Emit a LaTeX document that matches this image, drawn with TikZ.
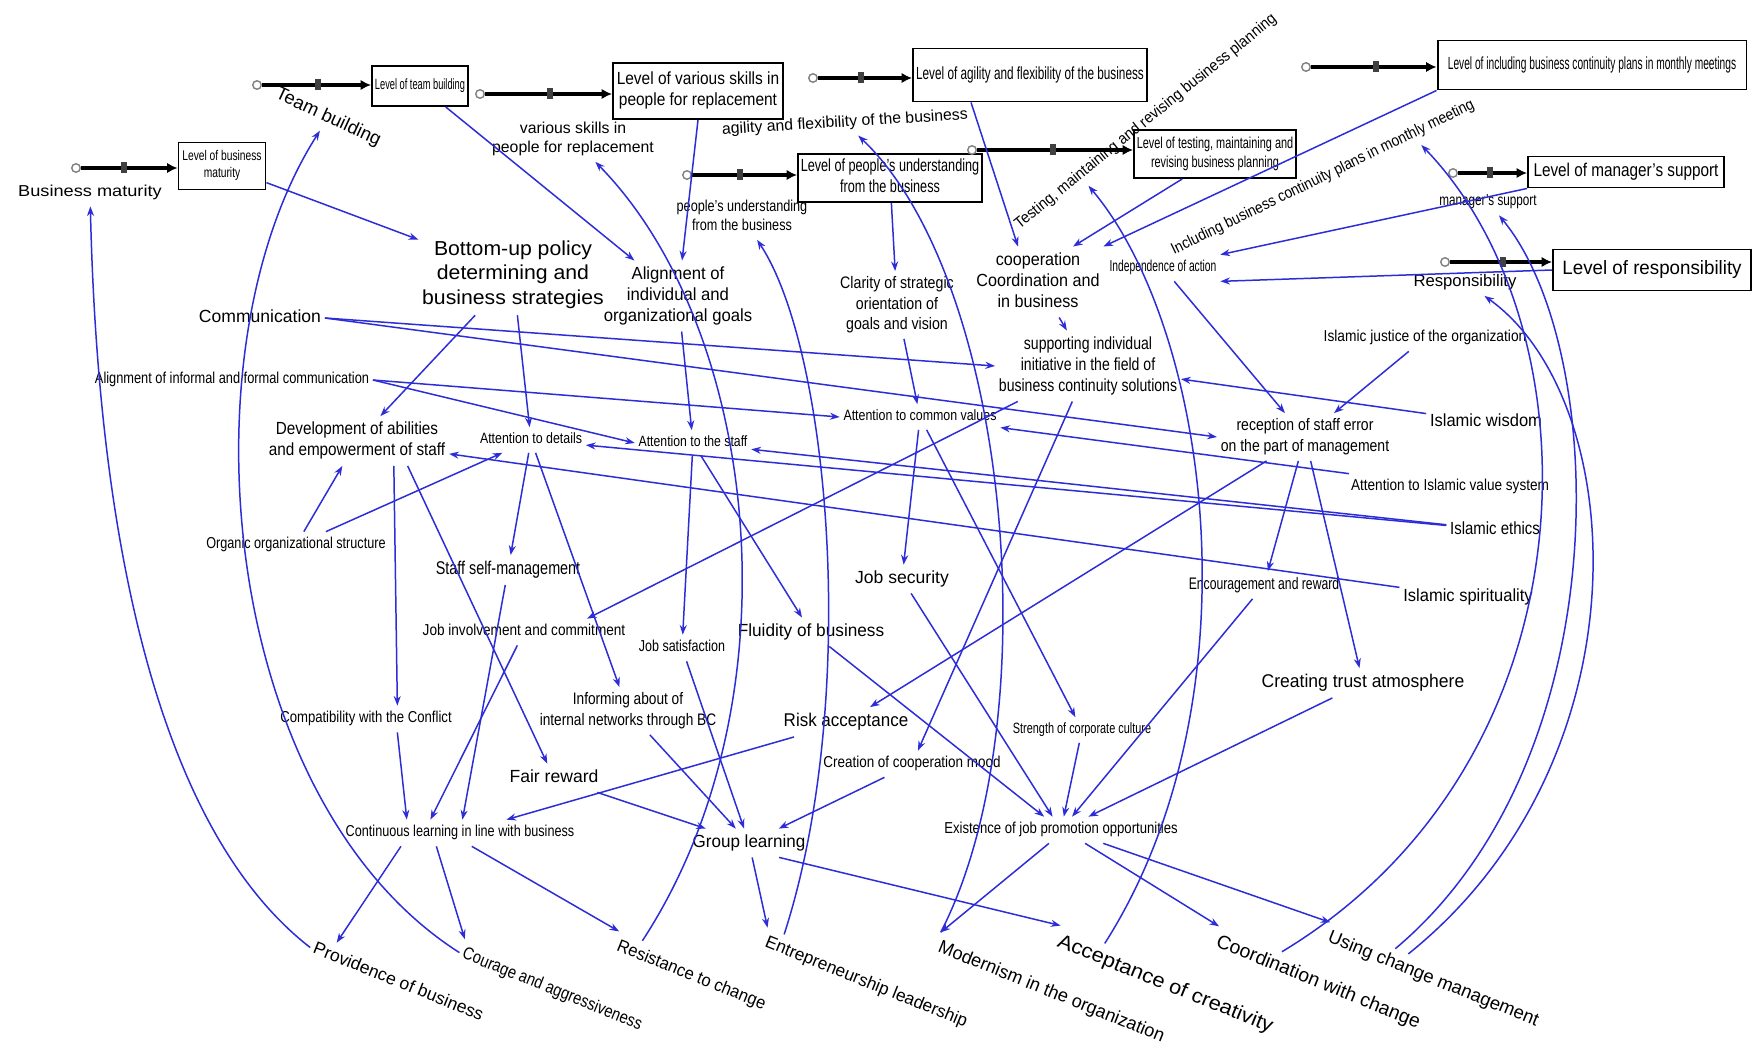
\documentclass[tikz,border=0pt]{standalone}
\usepackage{fontspec}
\setmainfont{Liberation Sans}
\usepackage{graphicx}
\usetikzlibrary{arrows.meta,calc}
\definecolor{bl}{RGB}{45,45,215}
\newcommand\tx[3]{\scalebox{#2}[1]{\fontsize{#1}{\fpeval{1.2*#1}}\selectfont\begin{tabular}{@{}c@{}}#3\end{tabular}}}
\tikzset{
  txt/.style={inner sep=2pt},
  box/.style={draw, line width=1.1pt, inner sep=0pt},
  arr/.style={draw=bl, line width=0.85pt, -{Stealth[length=5.5pt,width=4pt]}},
  pipe/.style={line width=1.8pt, -{Latex[length=6pt,width=6pt]}},
  cloudc/.style={circle, draw=gray, fill=white, line width=0.8pt, minimum size=0.17cm, inner sep=0pt},
  valve/.style={rectangle, fill=black!75, minimum width=0.11cm, minimum height=0.22cm, inner sep=0pt},
}
\begin{document}
\begin{tikzpicture}[x=0.02cm,y=-0.02cm]
\useasboundingbox (0,0) rectangle (1754,1044);
\fill[white] (0,0) rectangle (1754,1044);
% ---------- stocks ----------
\node[box, minimum width=1.74cm, minimum height=0.94cm] (sBM) at (222,166) {\tx{8}{0.73}{Level of business\\maturity}};
\node[box, minimum width=1.92cm, minimum height=0.8cm] (sTB) at (420,86) {\tx{8.5}{0.62}{Level of team building}};
\node[box, minimum width=3.4cm, minimum height=1.12cm] (sVS) at (698,91) {\tx{10}{0.88}{Level of various skills in\\people for replacement}};
\node[box, minimum width=4.68cm, minimum height=1.06cm] (sAF) at (1030,75) {\tx{10}{0.67}{Level of agility and flexibility of the business}};
\node[box, minimum width=3.68cm, minimum height=0.96cm] (sPU) at (890,178) {\tx{10}{0.72}{Level of people's understanding\\from the business}};
\node[box, minimum width=3.24cm, minimum height=0.96cm] (sTM) at (1215,154) {\tx{9}{0.69}{Level of testing, maintaining and\\revising business planning}};
\node[box, minimum width=6.18cm, minimum height=0.98cm] (sIC) at (1592,65) {\tx{10}{0.58}{Level of including business continuity plans in monthly meetings}};
\node[box, minimum width=3.92cm, minimum height=0.62cm] (sMS) at (1626,172) {\tx{10.5}{0.83}{Level of manager's support}};
\node[box, minimum width=3.96cm, minimum height=0.82cm] (sRS) at (1652,270) {\tx{11}{0.97}{Level of responsibility}};
% ---------- clouds ----------
\node[cloudc] (cBM) at (76,168) {};
\node[cloudc] (cTB) at (257,85) {};
\node[cloudc] (cVS) at (480,94) {};
\node[cloudc] (cAF) at (813,78) {};
\node[cloudc] (cPU) at (687,175) {};
\node[cloudc] (cTM) at (972,150) {};
\node[cloudc] (cIC) at (1306,67) {};
\node[cloudc] (cMS) at (1453,173) {};
\node[cloudc] (cRS) at (1445,262) {};
% ---------- pipes ----------
\draw[pipe] (cBM) -- (cBM -| sBM.west);
\draw[pipe] (cTB) -- (cTB -| sTB.west);
\draw[pipe] (cVS) -- (cVS -| sVS.west);
\draw[pipe] (cAF) -- (cAF -| sAF.west);
\draw[pipe] (cPU) -- (cPU -| sPU.west);
\draw[pipe] (cTM) -- (cTM -| sTM.west);
\draw[pipe] (cIC) -- (cIC -| sIC.west);
\draw[pipe] (cMS) -- (cMS -| sMS.west);
\draw[pipe] (cRS) -- (cRS -| sRS.west);
% ---------- valves ----------
\node[valve] (vBM) at (124,168) {};
\node[valve] (vTB) at (318,85) {};
\node[valve] (vVS) at (550,94) {};
\node[valve] (vAF) at (861,78) {};
\node[valve] (vPU) at (740,175) {};
\node[valve] (vTM) at (1053,150) {};
\node[valve] (vIC) at (1376,67) {};
\node[valve] (vMS) at (1490,173) {};
\node[valve] (vRS) at (1503,262) {};
% ---------- flow labels ----------
\node[txt] (lBM) at (90,193) {\tx{9}{1.15}{Business maturity}};
\node[txt, rotate=-25] (lTB) at (328,118) {\tx{10.5}{1}{Team building}};
\node[txt] (lVS) at (573,139) {\tx{9}{1}{various skills in\\people for replacement}};
\node[txt, rotate=3.5] (lAF) at (845,123) {\tx{9}{1}{agility and flexibility of the business}};
\node[txt] (lPU) at (742,217) {\tx{9}{0.8}{people's understanding\\from the business}};
\node[txt, rotate=39] (lTM) at (1146,122) {\tx{9}{0.92}{Testing, maintaining and revising business planning}};
\node[txt, rotate=26] (lIC) at (1323,178) {\tx{9}{0.88}{Including business continuity plans in monthly meeting}};
\node[txt] (lMS) at (1488,202) {\tx{9}{0.74}{manager's support}};
\node[txt] (lRS) at (1465,282) {\tx{9.5}{1}{Responsibility}};
% ---------- auxiliaries ----------
\node[txt] (bup) at (513,275) {\tx{11.5}{1.05}{Bottom-up policy\\determining and\\business strategies}};
\node[txt] (aig) at (678,296) {\tx{10}{0.95}{Alignment of\\individual and\\organizational goals}};
\node[txt] (clar) at (897,305) {\tx{9.5}{0.85}{Clarity of strategic\\orientation of\\goals and vision}};
\node[txt] (coop) at (1038,282) {\tx{10}{0.92}{cooperation\\Coordination and\\in business}};
\node[txt] (indep) at (1163,268) {\tx{9}{0.65}{Independence of action}};
\node[txt] (supp) at (1088,366) {\tx{10}{0.8}{supporting individual\\initiative in the field of\\business continuity solutions}};
\node[txt] (comm) at (260,318) {\tx{10}{1}{Communication}};
\node[txt] (aifc) at (232,380) {\tx{9}{0.81}{Alignment of informal and formal communication}};
\node[txt] (dev) at (357,441) {\tx{10}{0.87}{Development of abilities\\and empowerment of staff}};
\node[txt] (oos) at (296,545) {\tx{9}{0.8}{Organic organizational structure}};
\node[txt] (atd) at (531,440) {\tx{8.5}{0.83}{Attention to details}};
\node[txt] (ats) at (693,443) {\tx{8.5}{0.82}{Attention to the staff}};
\node[txt] (acv) at (920,417) {\tx{8.5}{0.83}{Attention to common values}};
\node[txt] (rse) at (1305,437) {\tx{9.5}{0.84}{reception of staff error\\on the part of management}};
\node[txt] (ijo) at (1425,338) {\tx{9}{0.87}{Islamic justice of the organization}};
\node[txt] (iw) at (1486,422) {\tx{10}{0.94}{Islamic wisdom}};
\node[txt] (aivs) at (1450,487) {\tx{9}{0.86}{Attention to Islamic value system}};
\node[txt] (ie) at (1495,530) {\tx{10}{0.85}{Islamic ethics}};
\node[txt] (isp) at (1468,597) {\tx{10}{0.94}{Islamic spirituality}};
\node[txt] (enc) at (1264,585) {\tx{9.5}{0.73}{Encouragement and reward}};
\node[txt] (cta) at (1363,683) {\tx{10.5}{0.95}{Creating trust atmosphere}};
\node[txt] (js) at (902,579) {\tx{10}{1}{Job security}};
\node[txt] (ssm) at (508,570) {\tx{10.5}{0.78}{Staff self-management}};
\node[txt] (jic) at (524,632) {\tx{9}{0.86}{Job involvement and commitment}};
\node[txt] (jsat) at (682,648) {\tx{9}{0.79}{Job satisfaction}};
\node[txt] (flu) at (811,632) {\tx{10}{0.98}{Fluidity of business}};
\node[txt] (cwc) at (366,719) {\tx{9}{0.83}{Compatibility with the Conflict}};
\node[txt] (inf) at (628,711) {\tx{9.5}{0.82}{Informing about of\\internal networks through BC}};
\node[txt] (ra) at (846,722) {\tx{10.5}{0.92}{Risk acceptance}};
\node[txt] (scc) at (1082,730) {\tx{8.5}{0.73}{Strength of corporate culture}};
\node[txt] (ccm) at (912,764) {\tx{9}{0.85}{Creation of cooperation mood}};
\node[txt] (fr) at (554,778) {\tx{10}{1}{Fair reward}};
\node[txt] (cl) at (460,833) {\tx{9}{0.8}{Continuous learning in line with business}};
\node[txt] (gl) at (749,843) {\tx{10}{0.97}{Group learning}};
\node[txt] (ejp) at (1061,830) {\tx{9}{0.83}{Existence of job promotion opportunities}};
% ---------- outcomes ----------
\node[txt, rotate=-22] (pob) at (398,983) {\tx{10}{1}{Providence of business}};
\node[txt, rotate=-22] (caa) at (552,990) {\tx{10}{0.84}{Courage and aggressiveness}};
\node[txt, rotate=-22] (rtc) at (691,976) {\tx{10}{0.94}{Resistance to change}};
\node[txt, rotate=-22] (el) at (866,983) {\tx{10}{0.98}{Entrepreneurship leadership}};
\node[txt, rotate=-22] (mio) at (1051,993) {\tx{10.5}{0.98}{Modernism in the organization}};
\node[txt, rotate=-22] (aoc) at (1165,985) {\tx{11.5}{1.08}{Acceptance of creativity}};
\node[txt, rotate=-22] (cwch) at (1318,983) {\tx{11}{1}{Coordination with change}};
\node[txt, rotate=-22] (ucm) at (1433,980) {\tx{10.5}{1}{Using change management}};
% ---------- links from stocks ----------
\draw[arr] (sBM) -- (bup);
\draw[arr] (sTB) -- (aig);
\draw[arr] (sVS.south) -- (aig);
\draw[arr] (sPU) -- (clar);
\draw[arr] ($(sAF.south west)!0.25!(sAF.south east)$) -- ([xshift=-0.4cm]coop.north);
\draw[arr] ($(sTM.south west)!0.3!(sTM.south east)$) -- ([xshift=0.7cm]coop.north);
\draw[arr] (sIC.south west) -- (coop.north east);
\draw[arr] (sMS.south west) -- (indep.north east);
\draw[arr] (sRS.west) -- (indep.south east);
% ---------- middle links ----------
\draw[arr] (coop) -- (supp);
\draw[arr] (indep) -- (rse);
\draw[arr] (ijo) -- (rse);
\draw[arr] (iw) -- (supp);
\draw[arr] (aivs) -- (acv);
\draw[arr] (ie) -- (atd);
\draw[arr] (ie) -- (ats);
\draw[arr] (isp) -- (dev);
\draw[arr] (comm.east) -- (supp.west);
\draw[arr] (comm.east) -- (rse.west);
\draw[arr] (aifc.east) -- (ats.west);
\draw[arr] (aifc.east) -- (acv.west);
\draw[arr] (bup) -- (dev);
\draw[arr] (bup) -- (atd);
\draw[arr] (aig) -- (ats);
\draw[arr] (clar) -- (acv);
\draw[arr] (oos) -- (dev);
\draw[arr] (oos) -- (atd);
\draw[arr] ($(dev.south)!0.4!(dev.south east)$) -- ($(cwc.north)!0.35!(cwc.north east)$);
\draw[arr] ($(dev.south)!0.55!(dev.south east)$) -- (fr);
\draw[arr] (atd) -- (ssm);
\draw[arr] (atd) -- (inf);
\draw[arr] (ats) -- (jsat);
\draw[arr] (ats) -- (flu);
\draw[arr] (acv) -- (js);
\draw[arr] (acv) -- (scc);
\draw[arr] (supp) -- ($(jic.north)!0.6!(jic.north east)$);
\draw[arr] (supp) -- (ccm);
\draw[arr] (rse) -- (ra);
\draw[arr] (rse) -- (enc);
\draw[arr] (rse) -- (cta);
\draw[arr] (ssm) -- (cl);
\draw[arr] (jic) -- ($(cl.north)!0.25!(cl.north west)$);
\draw[arr] ($(cwc.south)!0.35!(cwc.south east)$) -- ($(cl.north)!0.45!(cl.north west)$);
\draw[arr] (ra) -- (cl);
\draw[arr] (jsat) -- (gl);
\draw[arr] (inf) -- (gl);
\draw[arr] (fr) -- (gl);
\draw[arr] (ccm) -- (gl);
\draw[arr] (flu) -- (ejp);
\draw[arr] (js) -- (ejp);
\draw[arr] (scc) -- (ejp);
\draw[arr] (enc) -- (ejp);
\draw[arr] (cta) -- (ejp);
% ---------- to outcomes ----------
\draw[arr] (gl) -- (el.north west);
\draw[arr] ($(cl.south)!0.5!(cl.south west)$) -- ($(pob.north west)!0.12!(pob.north east)$);
\draw[arr] ($(cl.south)!0.2!(cl.south west)$) -- (caa.north west);
\draw[arr] ($(cl.south)!0.1!(cl.south east)$) -- (rtc.north west);
\draw[arr] ($(gl.south)!0.5!(gl.south east)$) -- (aoc.north west);
\draw[arr] ($(ejp.south)!0.1!(ejp.south west)$) -- (mio.north west);
\draw[arr] ($(ejp.south)!0.2!(ejp.south east)$) -- (cwch.north west);
\draw[arr] ($(ejp.south)!0.35!(ejp.south east)$) -- (ucm.north west);
% ---------- feedback curves ----------
\draw[arr] (pob.west) .. controls (120,800) and (95,400) .. (lBM);
\draw[arr] (caa.west) .. controls (220,800) and (180,350) .. (lTB);
\draw[arr] ($(rtc.north west)!0.15!(rtc.north east)$) .. controls (800,700) and (760,330) .. (lVS);
\draw[arr] ($(el.north west)!0.08!(el.north east)$) .. controls (860,700) and (830,350) .. (lPU);
\draw[arr] (mio.north west) .. controls (1050,720) and (1010,280) .. (lAF);
\draw[arr] ($(aoc.north west)!0.2!(aoc.north east)$) .. controls (1260,700) and (1210,330) .. ($(lTM.south west)!0.25!(lTM.south east)$);
\draw[arr] ($(cwch.north west)!0.3!(cwch.north east)$) .. controls (1600,760) and (1600,330) .. ($(lIC.south east)!0.2!(lIC.south west)$);
\draw[arr] ($(ucm.north west)!0.3!(ucm.north east)$) .. controls (1620,760) and (1610,350) .. (lMS);
\draw[arr] ($(ucm.north west)!0.36!(ucm.north east)$) .. controls (1650,760) and (1630,400) .. (lRS);
\end{tikzpicture}
\end{document}
